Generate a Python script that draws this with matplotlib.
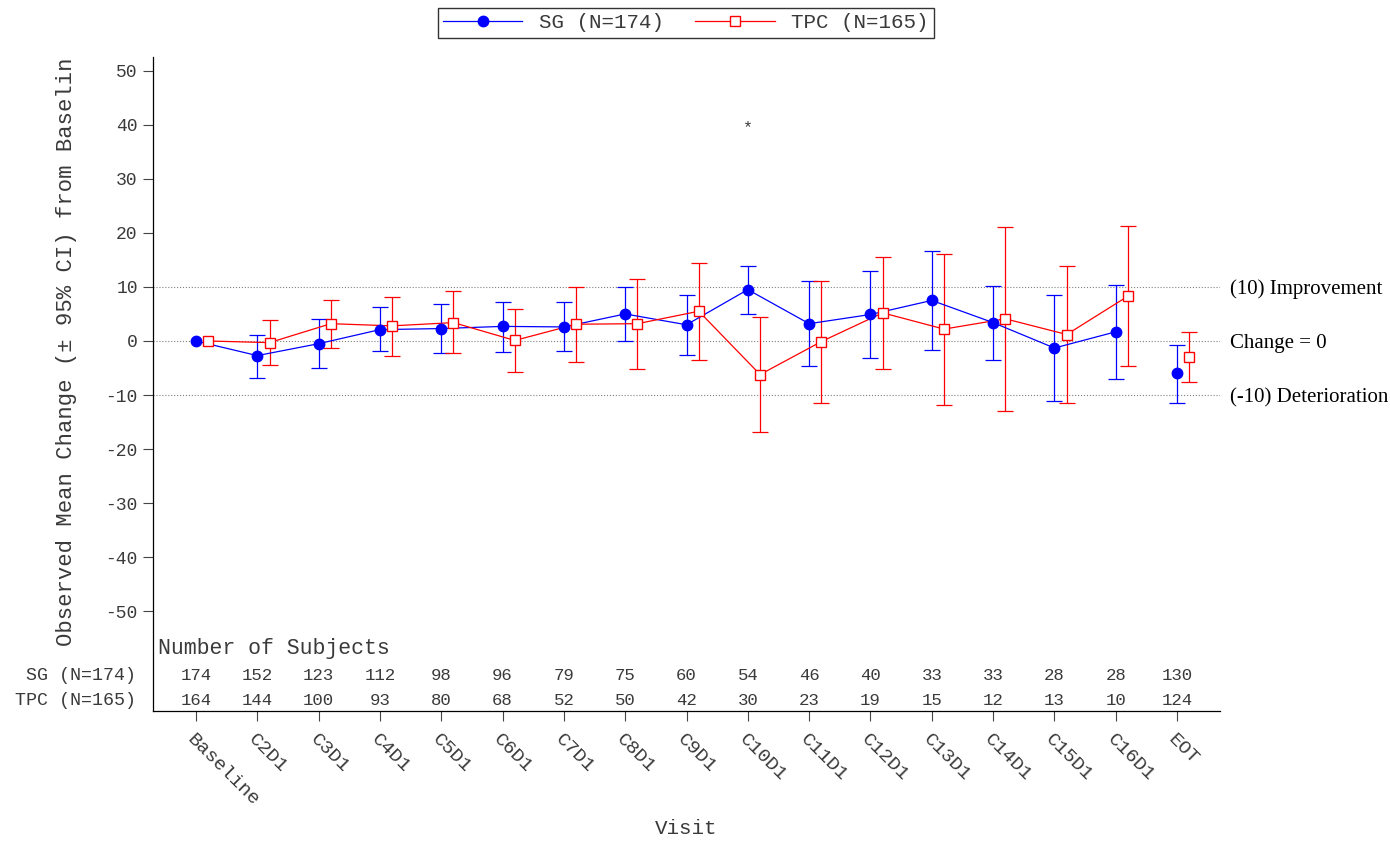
import numpy as np
import matplotlib.pyplot as plt
from matplotlib.lines import Line2D

plt.rcParams['font.family'] = ['Liberation Mono', 'DejaVu Sans Mono']

# Visits and group sizes
visits = ['Baseline', 'C2D1', 'C3D1', 'C4D1', 'C5D1', 'C6D1', 'C7D1', 'C8D1', 'C9D1',
          'C10D1', 'C11D1', 'C12D1', 'C13D1', 'C14D1', 'C15D1', 'C16D1', 'EOT']
sg_n = [174, 152, 123, 112, 98, 96, 79, 75, 60, 54, 46, 40, 33, 33, 28, 28, 130]
tpc_n = [164, 144, 100, 93, 80, 68, 52, 50, 42, 30, 23, 19, 15, 12, 13, 10, 124]

# Mean change from baseline with 95% CI
sg_mean = [0, -2.7, -0.5, 2.1, 2.3, 2.7, 2.6, 5.0, 3.0, 9.5, 3.2, 4.9, 7.5, 3.4, -1.3, 1.7, -6.0]
sg_lo = [np.nan, -6.8, -5.0, -1.9, -2.2, -2.0, -1.9, 0.0, -2.6, 5.0, -4.7, -3.1, -1.6, -3.5, -11.1, -7.0, -11.5]
sg_hi = [np.nan, 1.2, 4.1, 6.2, 6.8, 7.3, 7.2, 10.0, 8.5, 13.9, 11.0, 12.9, 16.6, 10.2, 8.5, 10.4, -0.7]
tpc_mean = [0, -0.3, 3.2, 2.8, 3.4, 0.1, 3.1, 3.2, 5.5, -6.2, -0.1, 5.2, 2.2, 4.1, 1.2, 8.3, -2.9]
tpc_lo = [np.nan, -4.5, -1.3, -2.7, -2.3, -5.8, -3.8, -5.1, -3.6, -16.8, -11.4, -5.2, -11.8, -12.9, -11.5, -4.6, -7.6]
tpc_hi = [np.nan, 3.9, 7.6, 8.2, 9.2, 6.0, 9.9, 11.5, 14.5, 4.4, 11.1, 15.6, 16.0, 21.0, 13.8, 21.2, 1.7]

signif_visit = 'C10D1'
ref_lines = [10, 0, -10]
ref_labels = ['(10) Improvement', 'Change = 0', '(-10) Deterioration']

fig = plt.figure(figsize=(13.9, 8.41), dpi=100)
ax = fig.add_axes([153 / 1390, 1 - 711 / 841, (1220 - 153) / 1390, (711 - 57) / 841])

x = np.arange(len(visits))
offset = 0.2
blue = '#0000FF'
red = '#FF0000'
txt = '#3a3a3a'


def draw_group(xs, mean, lo, hi, color, marker, mfc):
    mean = np.array(mean, dtype=float)
    err = np.vstack([mean - np.array(lo), np.array(hi) - mean])
    # visits joined by a line, EOT stands alone
    ax.plot(xs[:-1], mean[:-1], color=color, lw=0.9, zorder=3)
    ax.errorbar(xs, mean, yerr=err, fmt='none', ecolor=color, elinewidth=0.9,
                capsize=6, capthick=0.9, zorder=2)
    ax.plot(xs, mean, ls='none', marker=marker, ms=7.5, color=color,
            mfc=mfc, mec=color, mew=1.0, zorder=4)


draw_group(x, sg_mean, sg_lo, sg_hi, blue, 'o', blue)
draw_group(x + offset, tpc_mean, tpc_lo, tpc_hi, red, 's', 'white')

# reference lines and their labels
for v, lab in zip(ref_lines, ref_labels):
    ax.axhline(v, color='#808080', ls=':', lw=0.8, zorder=1)
    ax.text(1.009, v, lab, transform=ax.get_yaxis_transform(), ha='left', va='center_baseline',
            fontsize=15, family='Liberation Serif', clip_on=False)

ax.text(visits.index(signif_visit), 39.5, '*', ha='center', va='center', fontsize=12, color=txt)

ax.set_xlim(-0.7, 16.7)
ax.set_ylim(-68.4, 52.5)
ax.set_yticks(np.arange(-50, 51, 10))
ax.set_yticklabels([str(v) for v in range(-50, 51, 10)], fontsize=13)
ax.set_xticks(x)
ax.set_xticklabels(visits, rotation=-45, ha='left', va='top', rotation_mode='anchor', fontsize=14)
ax.tick_params(axis='y', length=7, width=0.8, pad=4, colors='#444444', labelcolor=txt)
ax.tick_params(axis='x', length=7, width=0.8, pad=7, colors='#444444', labelcolor=txt)
for s in ['top', 'right']:
    ax.spines[s].set_visible(False)
for s in ['left', 'bottom']:
    ax.spines[s].set_linewidth(0.9)

ax.set_xlabel('Visit', fontsize=15, color=txt)
ax.xaxis.set_label_coords(0.4995, -0.165)
ax.set_ylabel('Observed Mean Change (\u00b1 95% CI) from Baselin', fontsize=16, color=txt)
ax.yaxis.set_label_coords(-0.071, 0.55)

# number of subjects table
ax.text(-0.62, -56.9, 'Number of Subjects', fontsize=15.5, ha='left', va='center', color=txt)
for yrow, lab, counts in [(-61.9, 'SG (N=174)', sg_n), (-66.4, 'TPC (N=165)', tpc_n)]:
    ax.text(-0.98, yrow, lab, fontsize=13.2, ha='right', va='center', color=txt, clip_on=False)
    for xi, c in zip(x, counts):
        ax.text(xi, yrow, str(c), fontsize=12.5, ha='center', va='center', color=txt)

handles = [Line2D([], [], color=blue, lw=0.9, marker='o', ms=7.5, mfc=blue),
           Line2D([], [], color=red, lw=0.9, marker='s', ms=7.5, mfc='white', mec=red)]
fig.legend(handles, ['SG (N=174)', 'TPC (N=165)'], loc='center', bbox_to_anchor=(686 / 1390, 1 - 23 / 841),
           ncol=2, fontsize=15, frameon=True, fancybox=False, edgecolor='black', handlelength=3.8,
           columnspacing=1.5, borderpad=0.25, labelcolor=txt)

fig.savefig('out.png', dpi=100)
